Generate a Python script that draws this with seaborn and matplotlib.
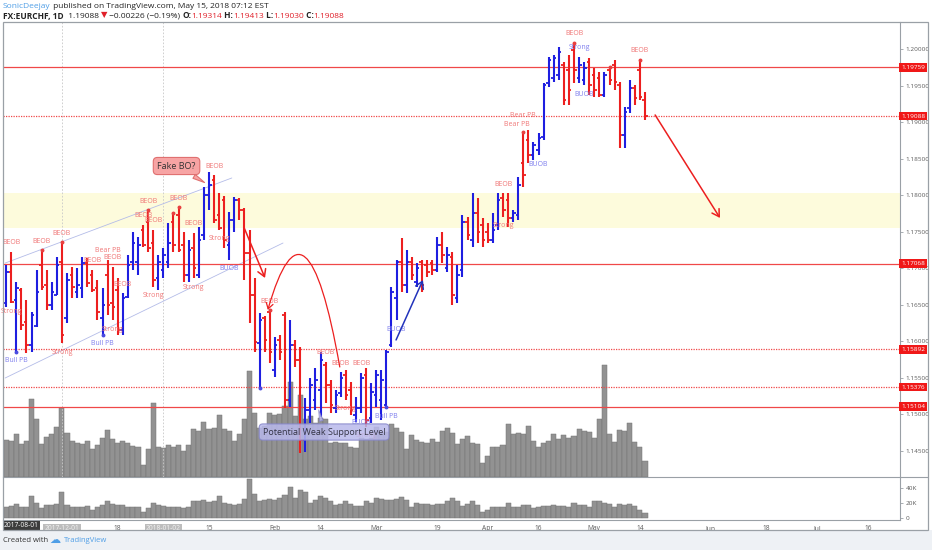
import numpy as np
import pandas as pd
import matplotlib
matplotlib.use("Agg")
import matplotlib.pyplot as plt
from matplotlib.patches import Rectangle
from matplotlib.lines import Line2D
from matplotlib.transforms import blended_transform_factory
import seaborn as sns

W, H = 932, 550

# -----------------------------------------
# data
# -----------------------------------------
first_day = "2017-11-16"
axis_end_day = "2018-07-31"
market_closed = ["2017-12-25", "2018-01-01"]

opens = [1.1653, 1.1695, 1.1657, 1.1670, 1.1627, 1.1595, 1.1621, 1.1705, 1.1677, 1.1650,
         1.1664, 1.1709, 1.1632, 1.1691, 1.1668, 1.1673, 1.1708, 1.1691, 1.1673, 1.1632,
         1.1691, 1.1653, 1.1670, 1.1616, 1.1661, 1.1709, 1.1709, 1.1753, 1.1764, 1.1735,
         1.1687, 1.1698, 1.1709, 1.1764, 1.1773, 1.1732, 1.1691, 1.1728, 1.1691, 1.1746,
         1.1801, 1.1821, 1.1773, 1.1794, 1.1732, 1.1766, 1.1794, 1.1780, 1.1721, 1.1664,
         1.1598, 1.1632, 1.1640, 1.1561, 1.1602, 1.1636, 1.1520, 1.1595, 1.1575, 1.1465,
         1.1506, 1.1520, 1.1533, 1.1568, 1.1540, 1.1509, 1.1529, 1.1554, 1.1533, 1.1499,
         1.1509, 1.1554, 1.1495, 1.1527, 1.1520, 1.1513, 1.1595, 1.1660, 1.1709, 1.1677,
         1.1709, 1.1681, 1.1709, 1.1705, 1.1708, 1.1698, 1.1732, 1.1701, 1.1716, 1.1660,
         1.1698, 1.1764, 1.1739, 1.1776, 1.1760, 1.1750, 1.1739, 1.1760, 1.1797, 1.1794,
         1.1769, 1.1773, 1.1844, 1.1876, 1.1855, 1.1862, 1.1880, 1.1954, 1.1961, 1.1965,
         1.1979, 1.1972, 1.1999, 1.1961, 1.1958, 1.1983, 1.1965, 1.1961, 1.1938, 1.1972,
         1.1979, 1.1951, 1.1883, 1.1920, 1.1947, 1.1972, 1.19314]
highs = [1.1705, 1.1723, 1.1681, 1.1673, 1.1657, 1.1640, 1.1698, 1.1725, 1.1698, 1.1681,
         1.1716, 1.1736, 1.1694, 1.1702, 1.1701, 1.1716, 1.1714, 1.1698, 1.1684, 1.1673,
         1.1712, 1.1702, 1.1687, 1.1666, 1.1718, 1.1750, 1.1743, 1.1760, 1.1780, 1.1753,
         1.1718, 1.1728, 1.1762, 1.1776, 1.1784, 1.1750, 1.1739, 1.1749, 1.1757, 1.1812,
         1.1832, 1.1828, 1.1803, 1.1799, 1.1777, 1.1798, 1.1797, 1.1783, 1.1753, 1.1687,
         1.1639, 1.1635, 1.1643, 1.1606, 1.1609, 1.1640, 1.1629, 1.1602, 1.1592, 1.1522,
         1.1550, 1.1564, 1.1586, 1.1572, 1.1547, 1.1533, 1.1558, 1.1561, 1.1544, 1.1524,
         1.1557, 1.1564, 1.1543, 1.1561, 1.1561, 1.1588, 1.1675, 1.1712, 1.1742, 1.1725,
         1.1716, 1.1708, 1.1712, 1.1712, 1.1712, 1.1743, 1.1750, 1.1729, 1.1723, 1.1705,
         1.1773, 1.1771, 1.1803, 1.1797, 1.1769, 1.1762, 1.1776, 1.1803, 1.1803, 1.1803,
         1.1780, 1.1825, 1.1887, 1.1890, 1.1873, 1.1886, 1.1954, 1.1990, 1.1992, 1.2003,
         1.1983, 1.1992, 1.2009, 1.1990, 1.1983, 1.1988, 1.1975, 1.1969, 1.1969, 1.1976,
         1.1986, 1.1955, 1.1921, 1.1958, 1.1951, 1.1986, 1.19413]
lows = [1.1647, 1.1653, 1.1586, 1.1616, 1.1584, 1.1586, 1.1620, 1.1670, 1.1643, 1.1643,
        1.1664, 1.1598, 1.1625, 1.1660, 1.1660, 1.1660, 1.1675, 1.1668, 1.1629, 1.1609,
        1.1636, 1.1629, 1.1609, 1.1609, 1.1660, 1.1698, 1.1691, 1.1729, 1.1723, 1.1675,
        1.1670, 1.1687, 1.1701, 1.1723, 1.1723, 1.1681, 1.1681, 1.1687, 1.1687, 1.1739,
        1.1780, 1.1762, 1.1753, 1.1728, 1.1712, 1.1750, 1.1766, 1.1684, 1.1625, 1.1586,
        1.1536, 1.1586, 1.1571, 1.1551, 1.1575, 1.1509, 1.1510, 1.1565, 1.1447, 1.1449,
        1.1488, 1.1506, 1.1497, 1.1516, 1.1502, 1.1502, 1.1524, 1.1520, 1.1499, 1.1490,
        1.1502, 1.1483, 1.1488, 1.1510, 1.1492, 1.1510, 1.1592, 1.1629, 1.1668, 1.1666,
        1.1684, 1.1675, 1.1668, 1.1688, 1.1691, 1.1695, 1.1708, 1.1695, 1.1650, 1.1653,
        1.1688, 1.1739, 1.1729, 1.1735, 1.1729, 1.1735, 1.1735, 1.1753, 1.1771, 1.1757,
        1.1764, 1.1766, 1.1812, 1.1844, 1.1849, 1.1855, 1.1876, 1.1949, 1.1955, 1.1958,
        1.1924, 1.1924, 1.1954, 1.1954, 1.1951, 1.1938, 1.1935, 1.1935, 1.1935, 1.1951,
        1.1944, 1.1865, 1.1865, 1.1913, 1.1924, 1.1931, 1.19030]
closes = [1.1695, 1.1654, 1.1673, 1.1623, 1.1595, 1.1636, 1.1668, 1.1675, 1.1650, 1.1668,
          1.1705, 1.1609, 1.1684, 1.1675, 1.1677, 1.1708, 1.1680, 1.1670, 1.1640, 1.1650,
          1.1650, 1.1647, 1.1616, 1.1660, 1.1705, 1.1735, 1.1732, 1.1732, 1.1728, 1.1684,
          1.1709, 1.1718, 1.1735, 1.1732, 1.1725, 1.1691, 1.1725, 1.1701, 1.1739, 1.1801,
          1.1814, 1.1766, 1.1755, 1.1739, 1.1766, 1.1794, 1.1780, 1.1721, 1.1664, 1.1599,
          1.1629, 1.1602, 1.1586, 1.1595, 1.1586, 1.1520, 1.1595, 1.1575, 1.1465, 1.1506,
          1.1540, 1.1547, 1.1575, 1.1540, 1.1513, 1.1527, 1.1550, 1.1527, 1.1506, 1.1509,
          1.1550, 1.1492, 1.1531, 1.1554, 1.1547, 1.1586, 1.1668, 1.1709, 1.1677, 1.1709,
          1.1691, 1.1701, 1.1677, 1.1695, 1.1698, 1.1732, 1.1718, 1.1718, 1.1664, 1.1691,
          1.1764, 1.1746, 1.1776, 1.1750, 1.1739, 1.1739, 1.1753, 1.1794, 1.1780, 1.1769,
          1.1776, 1.1814, 1.1828, 1.1855, 1.1869, 1.1879, 1.1951, 1.1986, 1.1988, 1.1997,
          1.1931, 1.1944, 1.1972, 1.1979, 1.1975, 1.1951, 1.1944, 1.1938, 1.1965, 1.1958,
          1.1955, 1.1883, 1.1914, 1.1947, 1.1934, 1.1935, 1.19088]

# volume drawn behind the price bars (no scale shown, relative units)
tick_volume = [37, 36, 43, 33, 36, 78, 58, 33, 40, 43, 50, 69, 44, 36, 34, 33, 36, 28, 32, 39,
               47, 38, 34, 36, 34, 31, 30, 12, 28, 74, 30, 29, 32, 30, 32, 26, 32, 48, 46, 55,
               48, 49, 62, 48, 46, 36, 43, 58, 106, 64, 49, 51, 64, 62, 63, 71, 95, 61, 82, 58,
               61, 54, 59, 58, 34, 35, 34, 34, 30, 29, 39, 38, 39, 50, 44, 45, 53, 49, 45, 28,
               42, 37, 35, 34, 38, 35, 46, 49, 44, 33, 38, 41, 34, 33, 14, 21, 30, 30, 32, 53,
               43, 44, 43, 51, 36, 30, 34, 36, 43, 38, 42, 39, 41, 48, 46, 45, 39, 58, 112, 43,
               35, 47, 46, 54, 35, 30, 16]
# lower pane volume, thousands
volume_k = [15, 16, 19, 14, 15, 29, 20, 13.5, 17, 17, 19, 34, 17, 15, 15, 15, 16, 10, 14, 17,
            22, 18, 17, 17, 15, 15, 15, 8, 13, 20, 17, 16, 15, 15, 15, 13, 15, 22, 22, 24,
            21, 22, 29, 20, 19, 17, 18, 25, 52, 32, 23, 24, 25, 24, 26, 31, 42, 26, 37, 35,
            20, 24, 29, 26, 22, 17, 19, 22, 19, 16, 16, 22, 20, 27, 25, 24, 24, 25, 28, 24,
            15, 20, 19, 18, 17, 18, 19, 23, 27, 23, 16, 18, 22, 17, 7, 10, 15, 15, 14, 20,
            15, 15, 17, 17, 13, 14, 16, 16, 17, 16, 16, 15, 20, 17.5, 17, 15, 23, 22, 20, 18,
            15, 18, 17, 19, 16, 11, 6]

level_prices = [1.19759, 1.17068, 1.15892, 1.15376, 1.15104]
level_dotted = [False, False, True, True, False]
last_price = 1.19088
zone_low, zone_high = 1.17552, 1.18033

price_ticks = [1.145, 1.150, 1.155, 1.160, 1.165, 1.170, 1.175, 1.180, 1.185, 1.190, 1.195, 1.200]
volume_ticks = [0, 20, 40]
volume_tick_labels = ["0", "20K", "40K"]

date_ticks = ["2017-12-01", "2017-12-18", "2018-01-02", "2018-01-15", "2018-02-01", "2018-02-14",
              "2018-03-01", "2018-03-19", "2018-04-02", "2018-04-16", "2018-05-01", "2018-05-14",
              "2018-06-01", "2018-06-18", "2018-07-02", "2018-07-16"]
date_tick_labels = ["2017-12-01", "18", "2018-01-02", "15", "Feb", "14", "Mar", "19", "Apr", "16",
                    "May", "14", "Jun", "18", "Jul", "16"]
session_breaks = ["2017-12-01", "2018-01-02"]

# indicator labels: (bar, text, above/below)
signals_red = [(1, "BEOB", "up"), (7, "BEOB", "up"), (11, "BEOB", "up"), (17, "BEOB", "up"),
               (20, "Bear PB", "up"), (21, "BEOB", "up"), (23, "BEOB", "up"), (27, "BEOB", "up"),
               (28, "BEOB", "up"), (29, "BEOB", "up"), (34, "BEOB", "up"), (37, "BEOB", "up"),
               (41, "BEOB", "up"), (52, "BEOB", "up"), (63, "BEOB", "up"), (66, "BEOB", "up"),
               (70, "BEOB", "up"), (98, "BEOB", "up"), (102, "Bear PB", "up"), (103, "Bear PB", "up"),
               (112, "BEOB", "up"), (125, "BEOB", "up"),
               (1, "Strong", "down"), (11, "Strong", "down"), (21, "Strong", "down"),
               (29, "Strong", "down"), (37, "Strong", "down"), (42, "Strong", "down"),
               (67, "Strong", "down"), (71, "Strong", "down"), (98, "Strong", "down")]
signals_blue = [(2, "Bull PB", "down"), (19, "Bull PB", "down"), (44, "BUOB", "down"),
                (70, "BUOB", "down"), (75, "Bull PB", "down"), (77, "BUOB", "down"),
                (105, "BUOB", "down"), (113, "Strong", "up"), (114, "BUOB", "down")]
# labels that sit off their bar in the picture (points)
label_nudge = {(102, "Bear PB"): (-4.5, -1), (103, "Bear PB"): (-4, 4)}
dots_red = [7, 11, 28, 33, 34, 52, 102, 112, 119, 125]
dots_blue = [2, 19, 50, 75]

# -----------------------------------------
# styling
# -----------------------------------------
sns.set_style("white")
plt.rcParams["font.family"] = ["Open Sans", "DejaVu Sans"]

BLUE = "#1e1ee0"
RED = "#ec1f1f"
LEVEL_RED = "#f04848"
LABEL_RED = "#f07878"
LABEL_BLUE = "#8080ee"
GRID_GREY = "#9aa0a6"
TEXT_GREY = "#5a5a5a"

fig = plt.figure(figsize=(W / 100, H / 100), dpi=100, facecolor="white")


def frac_rect(x0, y0, x1, y1):
    # pixel box (top-left origin) -> figure fraction [l, b, w, h]
    return [x0 / W, 1 - y1 / H, (x1 - x0) / W, (y1 - y0) / H]


days = pd.bdate_range(first_day, axis_end_day)
days = days[~days.isin(pd.to_datetime(market_closed))]
day_pos = {d: i for i, d in enumerate(days)}

n = len(opens)
x = np.arange(n)
o, h, l, c = map(np.array, (opens, highs, lows, closes))
bar_colors = np.where(c >= o, BLUE, RED)

x_lim = (-0.63, 176.3)

# bottom light strip
fig.patches.append(Rectangle((0, 0), 1, 20 / H, transform=fig.transFigure, fc="#eef1f5", ec="none", zorder=0))

# -----------------------------------------
# main pane: volume behind, price bars in front
# -----------------------------------------
ax_vol = fig.add_axes(frac_rect(3, 22, 900, 477))
ax = fig.add_axes(frac_rect(3, 22, 900, 477), sharex=ax_vol)
ax_vol.set_zorder(1)
ax.set_zorder(2)
ax.patch.set_visible(False)

sns.barplot(x=x, y=tick_volume, native_scale=True, width=1.0, color="#929292", saturation=1,
            edgecolor="#747474", linewidth=0.35, errorbar=None, ax=ax_vol)
ax_vol.set_ylim(0, 455)
ax_vol.set_axis_off()

ax.axhspan(zone_low, zone_high, color="#fdfbdc", zorder=0, lw=0)
for d in session_breaks:
    ax.axvline(day_pos[pd.Timestamp(d)], color="#c8c8c8", lw=0.6, ls=(0, (2, 2)), zorder=0.5)

# channel lines
ax.plot([-0.2, 44.5], [1.17075, 1.18240], color="#b4bce8", lw=0.6, zorder=1)
ax.plot([-0.2, 54.6], [1.15500, 1.17349], color="#b4bce8", lw=0.6, zorder=1)

for p, dotted in zip(level_prices, level_dotted):
    ax.axhline(p, color=LEVEL_RED, lw=0.9, ls=(0, (1, 1)) if dotted else "-", zorder=1.5)
ax.axhline(last_price, color=LEVEL_RED, lw=0.9, ls=(0, (1, 1)), zorder=1.5)

# OHLC bars
ax.vlines(x, l, h, colors=bar_colors, lw=1.5, zorder=3)
ax.hlines(o, x - 0.5, x, colors=bar_colors, lw=1.3, zorder=3)
ax.hlines(c, x, x + 0.5, colors=bar_colors, lw=1.3, zorder=3)

# indicator texts
for sigs, col in ((signals_red, LABEL_RED), (signals_blue, LABEL_BLUE)):
    for i, txt, side in sigs:
        dx, dy = label_nudge.get((i, txt), (0, 0))
        if side == "up":
            ax.annotate(txt, (i, h[i]), xytext=(dx, 4 + dy), textcoords="offset points",
                        ha="center", va="bottom", fontsize=5.0, color=col, zorder=4)
        else:
            ax.annotate(txt, (i, l[i]), xytext=(dx, -4 + dy), textcoords="offset points",
                        ha="center", va="top", fontsize=5.0, color=col, zorder=4)
for i in dots_red:
    ax.plot(i, h[i], marker="o", ms=1.8, color="#e84040", zorder=4)
for i in dots_blue:
    ax.plot(i, l[i], marker="o", ms=1.8, color="#4a4ae0", zorder=4)

# drawings
ax.annotate("", xy=(51.05, 1.16870), xytext=(46.95, 1.17555),
            arrowprops=dict(arrowstyle="->,head_length=0.5,head_width=0.3", color=RED, lw=1.1,
                            shrinkA=0, shrinkB=0), zorder=5)
ax.annotate("", xy=(51.6, 1.16432), xytext=(65.8, 1.15651),
            arrowprops=dict(arrowstyle="->,head_length=0.4,head_width=0.25", color=RED, lw=0.9,
                            shrinkA=0, shrinkB=0, connectionstyle="angle3,angleA=100,angleB=74"),
            zorder=5)
ax.annotate("", xy=(82.2, 1.16842), xytext=(76.9, 1.16021),
            arrowprops=dict(arrowstyle="->,head_length=0.5,head_width=0.3", color="#2233bb", lw=1.1,
                            shrinkA=0, shrinkB=0), zorder=5)
ax.annotate("", xy=(140.8, 1.17692), xytext=(128.0, 1.19103),
            arrowprops=dict(arrowstyle="->,head_length=0.5,head_width=0.3", color=RED, lw=1.1,
                            shrinkA=0, shrinkB=0), zorder=5)

ax.annotate("Fake BO?", xy=(39.6, 1.18158), xytext=(33.6, 1.18404), ha="center", va="center",
            fontsize=6.5, color="#333333", zorder=6,
            bbox=dict(boxstyle="round,pad=0.45", fc="#f7a4a4", ec="#e07070", lw=0.8),
            arrowprops=dict(arrowstyle="wedge,tail_width=0.5", fc="#f7a4a4", ec="#e07070", lw=0.8))
ax.annotate("Potential Weak Support Level", xy=(61.5, 1.1510), xytext=(62.7, 1.14760), ha="center",
            va="center", fontsize=6.5, color="#333344", zorder=6,
            bbox=dict(boxstyle="round,pad=0.4", fc="#b9b9ec", ec="#8585c8", lw=0.8, alpha=0.85),
            arrowprops=dict(arrowstyle="wedge,tail_width=0.4", fc="#b9b9ec", ec="#8585c8", lw=0.6,
                            alpha=0.85))

ax.set_xlim(*x_lim)
ax.set_ylim(1.141438, 1.203767)
ax.yaxis.tick_right()
ax.set_yticks(price_ticks)
ax.set_yticklabels([f"{t:.5f}" for t in price_ticks])
ax.tick_params(axis="y", colors=GRID_GREY, labelcolor=TEXT_GREY, labelsize=4.6, length=2.5, pad=1.5,
               width=0.6)
ax.tick_params(axis="x", bottom=False, labelbottom=False)
for s in ("top", "left", "bottom"):
    ax.spines[s].set_visible(False)
ax.spines["right"].set_color(GRID_GREY)
ax.spines["right"].set_linewidth(0.8)

# red price tags on the right axis
tag_tr = blended_transform_factory(ax.transAxes, ax.transData)
for p in level_prices + [last_price]:
    ax.text(1.0015, p, f"{p:.5f}", transform=tag_tr, ha="left", va="center", fontsize=4.6,
            color="white", clip_on=False, zorder=7,
            bbox=dict(boxstyle="square,pad=0.3", fc="#f01818", ec="none"))

# -----------------------------------------
# lower pane: volume
# -----------------------------------------
ax_low = fig.add_axes(frac_rect(3, 477, 900, 520), sharex=ax_vol)
sns.barplot(x=x, y=volume_k, native_scale=True, width=1.0, color="#929292", saturation=1,
            edgecolor="#747474", linewidth=0.35, errorbar=None, ax=ax_low)
ax_low.set_ylim(-3.1, 54.8)
ax_low.set_xlim(*x_lim)
ax_low.set_xlabel("")
ax_low.set_ylabel("")
ax_low.yaxis.tick_right()
ax_low.set_yticks(volume_ticks)
ax_low.set_yticklabels(volume_tick_labels)
ax_low.tick_params(axis="y", colors=GRID_GREY, labelcolor=TEXT_GREY, labelsize=4.6, length=2.5,
                   pad=1.5, width=0.6)
tick_pos = [day_pos[pd.Timestamp(d)] for d in date_ticks]
ax_low.set_xticks(tick_pos)
ax_low.set_xticklabels(date_tick_labels)
ax_low.tick_params(axis="x", colors=GRID_GREY, labelcolor=TEXT_GREY, labelsize=4.8, length=2,
                   pad=1.5, width=0.6)
for lbl in ax_low.get_xticklabels():
    if "-" in lbl.get_text():
        lbl.set_color("#f4f4f4")
        lbl.set_bbox(dict(boxstyle="square,pad=0.2", fc="#bdbdbd", ec="none"))
ax_low.spines["left"].set_visible(False)
for s in ("top", "right", "bottom"):
    ax_low.spines[s].set_color(GRID_GREY)
    ax_low.spines[s].set_linewidth(0.8)
ax_low.set_facecolor("white")

fig.text(4 / W, 1 - 525.5 / H, "2017-08-01", fontsize=4.8, color="white", va="center", ha="left",
         bbox=dict(boxstyle="square,pad=0.2", fc="#3c3c3c", ec="none"))

# outer frame + pane separator to the frame edge
fig.patches.append(Rectangle((3 / W, 1 - 530 / H), 925 / W, 508 / H, transform=fig.transFigure,
                             fill=False, ec=GRID_GREY, lw=0.9, zorder=10))
fig.lines.append(Line2D([900 / W, 928 / W], [1 - 477 / H, 1 - 477 / H], transform=fig.transFigure,
                        color=GRID_GREY, lw=0.8))


# -----------------------------------------
# header / footer text
# -----------------------------------------
def text_run(x_px, y_px, parts, size):
    renderer = fig.canvas.get_renderer()
    xx = x_px
    for txt, col, weight in parts:
        t = fig.text(xx / W, 1 - y_px / H, txt, color=col, fontsize=size, fontweight=weight,
                     va="center", ha="left")
        xx += t.get_window_extent(renderer=renderer).width


DARK = "#222222"
VAL = "#e0202a"
text_run(3, 6, [("SonicDeejay", "#4f9ee6", "normal"),
                (" published on TradingView.com, May 15, 2018 07:12 EST", DARK, "normal")], 6)
text_run(3, 16, [("FX:EURCHF, 1D", DARK, "bold"), ("  1.19088 ", DARK, "normal"),
                 ("\u25bc", VAL, "normal"), (" \u22120.00226 (\u22120.19%) ", DARK, "normal"),
                 ("O:", DARK, "bold"), ("1.19314", VAL, "normal"), (" H:", DARK, "bold"),
                 ("1.19413", VAL, "normal"), (" L:", DARK, "bold"), ("1.19030", VAL, "normal"),
                 (" C:", DARK, "bold"), ("1.19088", VAL, "normal")], 6)
text_run(3, 541, [("Created with", "#333333", "normal")], 5.5)
fig.text(49 / W, 1 - 540 / H, "\u2601", fontsize=8, color="#4f9ee6", va="center", ha="left",
         family="DejaVu Sans")
text_run(64, 541, [("TradingView", "#4f9ee6", "normal")], 5.5)

fig.savefig("out.png", dpi=100, facecolor=fig.get_facecolor())
